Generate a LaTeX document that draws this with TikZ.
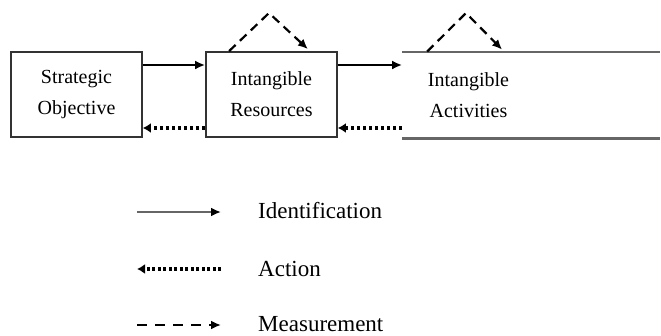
\documentclass[tikz,border=0pt]{standalone}
\usepackage{fontspec}
\setmainfont{Liberation Serif}
\usetikzlibrary{arrows.meta}
\begin{document}
\begin{tikzpicture}[x=1pt,y=-1pt,
  box/.style={draw=black!80,line width=1.8pt,minimum width=131pt,minimum height=85pt,
    align=center,inner sep=0pt,font=\fontsize{20}{31}\selectfont},
  idline/.style={line width=2.6pt,-{Latex[length=10pt,width=9pt]}},
  actline/.style={line width=3.2pt,dash pattern=on 3pt off 3pt,-{Latex[length=8pt,width=10pt]}},
  measline/.style={line width=2.2pt,dash pattern=on 9pt off 6pt,-{Latex[length=10pt,width=9pt]}},
  legtext/.style={anchor=base west,inner sep=0pt,font=\fontsize{23}{23}\selectfont}]
\useasboundingbox (0,0) rectangle (661,335);
\fill[white] (0,0) rectangle (661,335);

% the three stages
\node[box] (obj) at (76.5,94.5) {Strategic\\Objective};
\node[box] (res) at (271.5,94.5) {Intangible\\Resources};
\node[box,draw=none] (act) at (468.5,95) {Intangible\\Activities};
\draw[black!60,line width=2.2pt] (act.north west) -- ++(258,0);
\draw[black!60,line width=2.2pt] (act.south west) -- ++(258,0);

% identification (forward) and action (backward) links
\draw[idline] ([yshift=29.5pt]obj.east) -- ([yshift=29.5pt]res.west);
\draw[idline] ([yshift=29.5pt]res.east) -- ([yshift=30pt]act.west);
\draw[actline] ([yshift=-33.5pt]res.west) -- ([yshift=-33.5pt]obj.east);
\draw[actline] ([yshift=-33pt]act.west) -- ([yshift=-33.5pt]res.east);

% measurement loops above the boxes
\coordinate (apexR) at (269,13);
\coordinate (apexA) at (466,13);
\draw[measline] ([xshift=24pt]res.north west) -- (apexR) -- ([xshift=-30pt,yshift=2pt]res.north east);
\draw[measline] ([xshift=25pt]act.north west) -- (apexA) -- ([xshift=100pt,yshift=2pt]act.north west);

% legend
\coordinate (l1a) at (137,212); \coordinate (l1b) at (221,212);
\coordinate (l2a) at (221,269); \coordinate (l2b) at (137,269);
\coordinate (l3a) at (137,325); \coordinate (l3b) at (221,325);
\draw[idline,black!60,-{Latex[length=10pt,width=9pt,black]}] (l1a) -- (l1b);
\draw[actline,dash pattern=on 3pt off 2.5pt] (l2a) -- (l2b);
\draw[measline,dash pattern=on 10pt off 8pt] (l3a) -- (l3b);
\node[legtext] (t1) at (258,218) {Identification};
\node[legtext] (t2) at (258,276) {Action};
\node[legtext] (t3) at (258,331) {Measurement};
\end{tikzpicture}
\end{document}
